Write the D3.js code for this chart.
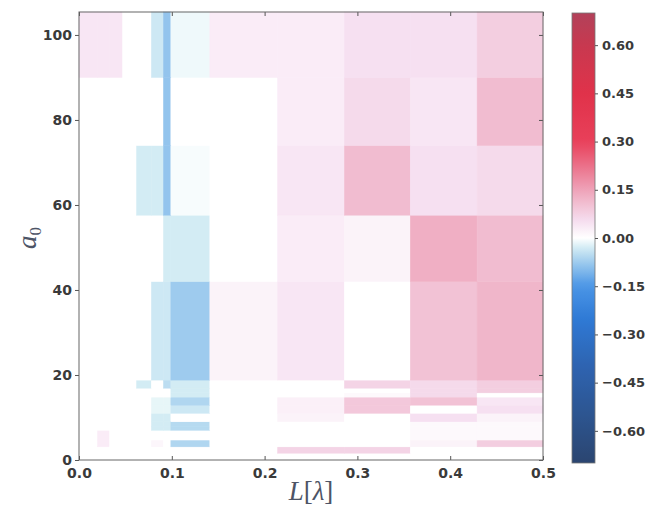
<!DOCTYPE html>
<html>
<head>
<meta charset="utf-8">
<script src="https://cdn.jsdelivr.net/npm/d3@7/dist/d3.min.js"></script>
<style>
  body { margin: 0; background: #fff; }
  .tick text { font-family: "DejaVu Sans", sans-serif; font-weight: bold; fill: #3a3a3a; }
</style>
</head>
<body>
<div id="chart"></div>
<script>
// cell edges (data units) of the irregular grid
const xEdges = [0, 0.02, 0.033, 0.047, 0.062, 0.078, 0.091, 0.099, 0.141, 0.214, 0.286, 0.357, 0.429, 0.5];
const yEdges = [0, 1.6, 3.1, 4.7, 7, 7.8, 9, 11, 12.9, 14.8, 15.8, 16.9, 18.8, 42, 57.6, 74, 90, 105.4];

// values, one row per y band (bottom to top), one entry per x band
const values = [
  [0,    0,    0,    0,    0,     0,      0,      0,      0,    0,     0,    0,    0],
  [0,    0,    0,    0,    0,     0,      0,      0,      0,    0.07,  0.07, 0,    0],
  [0,    0.03, 0,    0,    0,     0.015,  0,     -0.06,   0,    0,     0,    0.02, 0.08],
  [0,    0.03, 0,    0,    0,     0,      0,      0,      0,    0,     0,    0.01, 0.01],
  [0,    0,    0,    0,    0,    -0.03,  -0.03,  -0.055,  0,    0,     0,    0.01, 0.01],
  [0,    0,    0,    0,    0,    -0.03,  -0.03,  -0.055,  0,    0,     0,    0.01, 0.01],
  [0,    0,    0,    0,    0,    -0.03,  -0.03,   0,      0,    0.02,  0,    0.05, 0.02],
  [0,    0,    0,    0,    0,    -0.015, -0.015, -0.035,  0,    0.025, 0.09, 0,    0.05],
  [0,    0,    0,    0,    0,    -0.015, -0.015, -0.06,   0,    0.025, 0.09, 0.1,  0.04],
  [0,    0,    0,    0,    0,     0,      0,     -0.03,   0,    0,     0.01, 0.06, 0],
  [0,    0,    0,    0,    0,     0,      0,     -0.03,   0,    0,     0,    0.06, 0.08],
  [0,    0,    0,    0,   -0.03,  0,     -0.05,  -0.03,   0,    0,     0.07, 0.06, 0.08],
  [0,    0,    0,    0,    0,    -0.035, -0.035, -0.075,  0.02, 0.04,  0,    0.1,  0.12],
  [0,    0,    0,    0,    0,     0,     -0.03,  -0.03,   0,    0.03,  0.02, 0.13, 0.11],
  [0,    0,    0,    0,   -0.03, -0.03,  -0.085, -0.005,  0,    0.04,  0.11, 0.05, 0.06],
  [0,    0,    0,    0,    0,     0,     -0.085,  0,      0,    0.03,  0.06, 0.04, 0.11],
  [0.04, 0.04, 0.04, 0,    0,    -0.035, -0.085, -0.01,   0.03, 0.03,  0.05, 0.05, 0.08]
];

const xTicks = [0, 0.1, 0.2, 0.3, 0.4, 0.5];
const yTicks = [0, 20, 40, 60, 80, 100];
const cbarTicks = [-0.6, -0.45, -0.3, -0.15, 0, 0.15, 0.3, 0.45, 0.6];

// diverging colormap stops
const cmapStops = [-0.7, -0.55, -0.4, -0.25, -0.15, -0.07, -0.02, 0, 0.05, 0.12, 0.2, 0.3, 0.45, 0.6, 0.7];
const cmapColors = ["#2b4570", "#2d5590", "#2e63b0", "#2f7ad6", "#4a95e6", "#a4cfee", "#dff3f6", "#ffffff",
                    "#f6e0f1", "#f0b6ca", "#ec8199", "#e8405a", "#e0324a", "#c8394f", "#b2415a"];

const width = 655, height = 505;
const plot = { left: 79, right: 543, top: 12, bottom: 460 };
const cbar = { left: 572, right: 595, top: 13, bottom: 463 };

const color = d3.scaleLinear().domain(cmapStops).range(cmapColors).interpolate(d3.interpolateRgb).clamp(true);

const x = d3.scaleLinear().domain([0, 0.5]).range([plot.left, plot.right]);
const y = d3.scaleLinear().domain([0, 105.4]).range([plot.bottom, plot.top]);

const svg = d3.select("#chart").append("svg")
    .attr("width", width)
    .attr("height", height);

// heatmap cells
const cells = [];
values.forEach((row, i) => {
    row.forEach((v, j) => cells.push({ i, j, v }));
});

svg.append("g")
    .selectAll("rect")
    .data(cells)
    .enter().append("rect")
    .attr("x", d => x(xEdges[d.j]))
    .attr("y", d => y(yEdges[d.i + 1]))
    .attr("width", d => x(xEdges[d.j + 1]) - x(xEdges[d.j]))
    .attr("height", d => y(yEdges[d.i]) - y(yEdges[d.i + 1]))
    .attr("fill", d => color(d.v))
    .attr("stroke", d => color(d.v))
    .attr("stroke-width", 0.5);

// axes
const fmtX = d3.format(".1f");
svg.append("g")
    .attr("transform", `translate(0,${plot.bottom})`)
    .call(d3.axisBottom(x).tickValues(xTicks).tickFormat(fmtX).tickSizeInner(-4).tickSizeOuter(0).tickPadding(8))
    .call(g => g.selectAll("text").attr("font-size", 14));

svg.append("g")
    .attr("transform", `translate(0,${plot.top})`)
    .call(d3.axisTop(x).tickValues(xTicks).tickFormat("").tickSizeInner(-4).tickSizeOuter(0));

svg.append("g")
    .attr("transform", `translate(${plot.left},0)`)
    .call(d3.axisLeft(y).tickValues(yTicks).tickSizeInner(4).tickSizeOuter(0).tickPadding(3))
    .call(g => g.selectAll("text").attr("font-size", 14));

svg.append("g")
    .attr("transform", `translate(${plot.right},0)`)
    .call(d3.axisRight(y).tickValues(yTicks).tickFormat("").tickSizeInner(-4).tickSizeOuter(0));

svg.selectAll(".domain").remove();
svg.selectAll(".tick line").attr("stroke", "#555");

svg.append("rect")
    .attr("x", plot.left).attr("y", plot.top)
    .attr("width", plot.right - plot.left).attr("height", plot.bottom - plot.top)
    .attr("fill", "none").attr("stroke", "#666").attr("stroke-width", 1);

// axis labels
const xl = svg.append("text")
    .attr("x", (plot.left + plot.right) / 2)
    .attr("y", 500)
    .attr("text-anchor", "middle")
    .attr("font-family", "'Liberation Serif', serif")
    .attr("font-size", 27)
    .attr("fill", "#4d5466");
xl.append("tspan").attr("font-style", "italic").text("L");
xl.append("tspan").text("[");
xl.append("tspan").attr("font-style", "italic").text("λ");
xl.append("tspan").text("]");

const yl = svg.append("text")
    .attr("transform", "translate(36,238) rotate(-90)")
    .attr("text-anchor", "middle")
    .attr("font-family", "'Liberation Serif', serif")
    .attr("font-size", 27)
    .attr("fill", "#4d5466");
yl.append("tspan").attr("font-style", "italic").text("a");
yl.append("tspan").attr("font-size", 17).attr("dy", 5).text("0");

// colorbar
const cScale = d3.scaleLinear().domain([-0.7, 0.7]).range([cbar.bottom, cbar.top]);
const grad = svg.append("defs").append("linearGradient")
    .attr("id", "cbar-grad")
    .attr("x1", 0).attr("y1", 1).attr("x2", 0).attr("y2", 0);
d3.range(0, 1.0001, 0.02).forEach(t => {
    grad.append("stop")
        .attr("offset", t)
        .attr("stop-color", color(-0.7 + 1.4 * t));
});

svg.append("rect")
    .attr("x", cbar.left).attr("y", cbar.top)
    .attr("width", cbar.right - cbar.left).attr("height", cbar.bottom - cbar.top)
    .attr("fill", "url(#cbar-grad)")
    .attr("stroke", "#777").attr("stroke-width", 0.8);

svg.append("g")
    .attr("transform", `translate(${cbar.right},0)`)
    .call(d3.axisRight(cScale).tickValues(cbarTicks)
        .tickFormat(d => d3.format(".2f")(d).replace("-", "\u2212"))
        .tickSizeInner(3).tickSizeOuter(0).tickPadding(4))
    .call(g => g.select(".domain").remove())
    .call(g => g.selectAll(".tick line").attr("stroke", "#555"))
    .call(g => g.selectAll("text").attr("font-size", 13));
</script>
</body>
</html>
